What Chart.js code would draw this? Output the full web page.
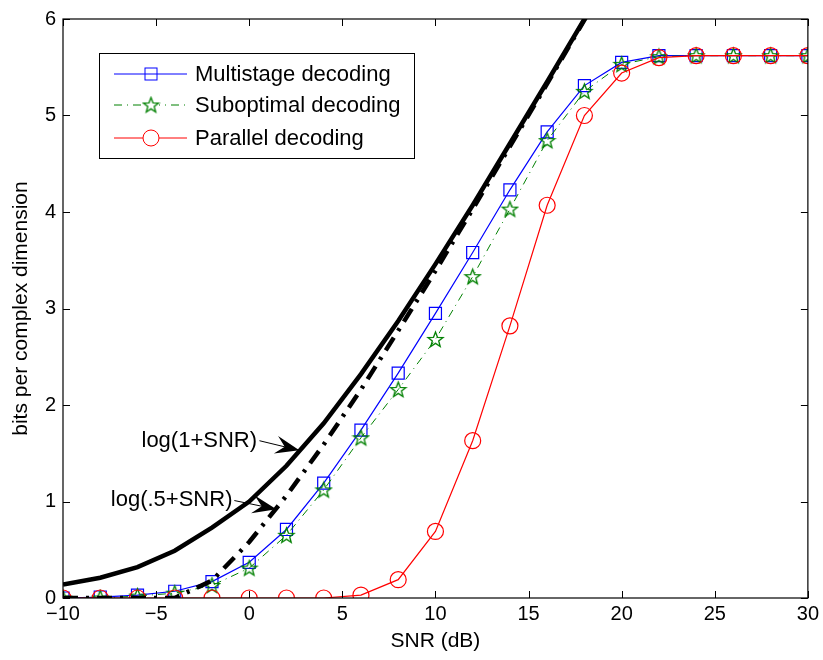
<!DOCTYPE html>
<html>
<head>
<meta charset="utf-8">
<script src="https://cdn.jsdelivr.net/npm/chart.js@4/dist/chart.umd.min.js"></script>
<style>
  html, body { margin: 0; padding: 0; background: #fff; }
  #wrap { width: 823px; height: 660px; }
</style>
</head>
<body>
<div id="wrap"><canvas id="chartCanvas" width="823" height="660"></canvas></div>
<script>
// SNR grid for the decoding curves (dB)
const snrDb = [-10, -8, -6, -4, -2, 0, 2, 4, 6, 8, 10, 12, 14, 16, 18, 20, 22, 24, 26, 28, 30];
const multistage = [0.00, 0.01, 0.03, 0.07, 0.17, 0.37, 0.71, 1.19, 1.74, 2.33, 2.95, 3.58, 4.23, 4.83, 5.31, 5.55, 5.62, 5.62, 5.62, 5.62, 5.62];
const suboptimal = [0.00, 0.00, 0.02, 0.05, 0.13, 0.31, 0.65, 1.12, 1.66, 2.16, 2.68, 3.33, 4.03, 4.74, 5.25, 5.53, 5.61, 5.62, 5.62, 5.62, 5.62];
const parallel = [0.00, 0.00, 0.00, 0.00, 0.00, 0.00, 0.00, 0.00, 0.03, 0.19, 0.69, 1.63, 2.82, 4.07, 5.00, 5.44, 5.60, 5.62, 5.62, 5.62, 5.62];

// capacity curves (thick black)
const capSnr = [-10, -8, -6, -4, -2, 0, 2, 4, 6, 8, 10, 12, 14, 16, 18, 20];
const capLogOne = [0.14, 0.21, 0.32, 0.49, 0.73, 1.00, 1.37, 1.81, 2.32, 2.87, 3.46, 4.07, 4.71, 5.35, 6.00, 6.66];
const capLogHalf = [0.00, 0.00, 0.00, 0.00, 0.18, 0.58, 1.06, 1.59, 2.16, 2.77, 3.39, 4.03, 4.68, 5.33, 5.99, 6.65];

const legendLabels = ['Multistage decoding', 'Suboptimal decoding', 'Parallel decoding'];
const xTitle = 'SNR (dB)';
const yTitle = 'bits per complex dimension';

const FONT = 'Liberation Sans, Arial, Helvetica, sans-serif';

function pts(xs, ys) {
  return xs.map((x, i) => ({ x: x, y: ys[i] }));
}

// green five-pointed star marker (Chart.js 'star' is an asterisk)
function makeStar(size) {
  const c = document.createElement('canvas');
  c.width = size; c.height = size;
  const g = c.getContext('2d');
  const cx = size / 2, cy = size / 2 + 0.5, ro = size / 2 - 1.5, ri = ro * 0.42;
  g.beginPath();
  for (let k = 0; k < 10; k++) {
    const r = k % 2 === 0 ? ro : ri;
    const a = -Math.PI / 2 + k * Math.PI / 5;
    const px = cx + r * Math.cos(a), py = cy + r * Math.sin(a);
    if (k === 0) g.moveTo(px, py); else g.lineTo(px, py);
  }
  g.closePath();
  g.strokeStyle = '#008000';
  g.lineWidth = 1.3;
  g.stroke();
  return c;
}
const starImg = makeStar(19);

function arrow(ctx, x0, y0, x1, y1) {
  ctx.save();
  ctx.strokeStyle = '#000';
  ctx.fillStyle = '#000';
  ctx.lineWidth = 1;
  ctx.beginPath();
  ctx.moveTo(x0, y0);
  ctx.lineTo(x1, y1);
  ctx.stroke();
  const a = Math.atan2(y1 - y0, x1 - x0);
  const len = 24, half = 9, notch = 15;
  const bx = x1 - len * Math.cos(a), by = y1 - len * Math.sin(a);
  const nx = x1 - notch * Math.cos(a), ny = y1 - notch * Math.sin(a);
  ctx.beginPath();
  ctx.moveTo(x1, y1);
  ctx.lineTo(bx - half * Math.sin(a), by + half * Math.cos(a));
  ctx.lineTo(nx, ny);
  ctx.lineTo(bx + half * Math.sin(a), by - half * Math.cos(a));
  ctx.closePath();
  ctx.fill();
  ctx.restore();
}

const decorPlugin = {
  id: 'decor',
  afterDraw(chart) {
    const ctx = chart.ctx;
    const area = chart.chartArea;
    const xs = chart.scales.x, ys = chart.scales.y;

    // axes box
    ctx.save();
    ctx.strokeStyle = '#000';
    ctx.lineWidth = 1.2;
    ctx.strokeRect(area.left, area.top, area.right - area.left, area.bottom - area.top);

    // inward ticks on all sides
    const tl = 7;
    ctx.beginPath();
    xs.ticks.forEach(t => {
      const px = Math.round(xs.getPixelForValue(t.value)) + 0.5;
      ctx.moveTo(px, area.bottom); ctx.lineTo(px, area.bottom - tl);
      ctx.moveTo(px, area.top); ctx.lineTo(px, area.top + tl);
    });
    ys.ticks.forEach(t => {
      const py = Math.round(ys.getPixelForValue(t.value)) + 0.5;
      ctx.moveTo(area.left, py); ctx.lineTo(area.left + tl, py);
      ctx.moveTo(area.right, py); ctx.lineTo(area.right - tl, py);
    });
    ctx.lineWidth = 1;
    ctx.stroke();

    // axis titles
    ctx.fillStyle = '#000';
    ctx.font = '21px ' + FONT;
    ctx.textAlign = 'center';
    ctx.textBaseline = 'middle';
    ctx.fillText(xTitle, (area.left + area.right) / 2, 641);
    ctx.save();
    ctx.translate(21, (area.top + area.bottom) / 2);
    ctx.rotate(-Math.PI / 2);
    ctx.fillText(yTitle, 0, 0);
    ctx.restore();

    // annotations
    ctx.font = '22px ' + FONT;
    ctx.textAlign = 'right';
    ctx.fillText('log(1+SNR)', xs.getPixelForValue(0.42), ys.getPixelForValue(1.63));
    arrow(ctx, xs.getPixelForValue(0.55), ys.getPixelForValue(1.63),
      xs.getPixelForValue(2.69), ys.getPixelForValue(1.53));
    ctx.fillText('log(.5+SNR)', xs.getPixelForValue(-0.9), ys.getPixelForValue(1.02));
    arrow(ctx, xs.getPixelForValue(-0.8), ys.getPixelForValue(1.01),
      xs.getPixelForValue(1.46), ys.getPixelForValue(0.92));

    // legend box
    const lx = area.left + 36, ly = area.top + 34, lw = 315, lh = 105;
    ctx.fillStyle = '#fff';
    ctx.fillRect(lx, ly, lw, lh);
    ctx.strokeStyle = '#000';
    ctx.lineWidth = 1;
    ctx.strokeRect(lx + 0.5, ly + 0.5, lw, lh);
    const rows = [ly + 21, ly + 52, ly + 85];
    const x0 = lx + 15, x1 = lx + 88, xm = lx + 52;
    // multistage
    ctx.strokeStyle = '#0000ff';
    ctx.beginPath(); ctx.moveTo(x0, rows[0]); ctx.lineTo(x1, rows[0]); ctx.stroke();
    ctx.strokeRect(xm - 6, rows[0] - 6, 12, 12);
    // suboptimal
    ctx.strokeStyle = '#008000';
    ctx.setLineDash([8, 5, 1, 5]);
    ctx.beginPath(); ctx.moveTo(x0, rows[1]); ctx.lineTo(x1, rows[1]); ctx.stroke();
    ctx.setLineDash([]);
    ctx.fillStyle = '#fff';
    ctx.fillRect(xm - 8, rows[1] - 8, 16, 16);
    ctx.drawImage(starImg, xm - starImg.width / 2, rows[1] - starImg.height / 2);
    // parallel
    ctx.strokeStyle = '#ff0000';
    ctx.beginPath(); ctx.moveTo(x0, rows[2]); ctx.lineTo(x1, rows[2]); ctx.stroke();
    ctx.fillStyle = '#fff';
    ctx.beginPath(); ctx.arc(xm, rows[2], 8, 0, Math.PI * 2); ctx.fill(); ctx.stroke();

    ctx.fillStyle = '#000';
    ctx.font = '22px ' + FONT;
    ctx.textAlign = 'left';
    legendLabels.forEach((s, i) => ctx.fillText(s, lx + 96, rows[i] + 1));
    ctx.restore();
  }
};

const ctx = document.getElementById('chartCanvas').getContext('2d');
new Chart(ctx, {
  type: 'line',
  data: {
    datasets: [
      {
        label: 'log(1+SNR)',
        data: pts(capSnr, capLogOne),
        borderColor: '#000',
        borderWidth: 4.5,
        pointRadius: 0,
        order: 1
      },
      {
        label: 'log(.5+SNR)',
        data: pts(capSnr, capLogHalf),
        borderColor: '#000',
        borderWidth: 4.5,
        borderDash: [15, 8, 3, 8],
        pointRadius: 0,
        order: 2
      },
      {
        label: legendLabels[2],
        data: pts(snrDb, parallel),
        borderColor: '#ff0000',
        borderWidth: 1.2,
        pointStyle: 'circle',
        pointRadius: 8,
        pointBorderColor: '#ff0000',
        pointBackgroundColor: 'rgba(0,0,0,0)',
        pointBorderWidth: 1.2,
        order: 3
      },
      {
        label: legendLabels[1],
        data: pts(snrDb, suboptimal),
        borderColor: '#008000',
        borderWidth: 1,
        borderDash: [8, 5, 1, 5],
        pointStyle: starImg,
        order: 4
      },
      {
        label: legendLabels[0],
        data: pts(snrDb, multistage),
        borderColor: '#0000ff',
        borderWidth: 1.2,
        pointStyle: 'rect',
        pointRadius: 8.5,
        pointBorderColor: '#0000ff',
        pointBackgroundColor: 'rgba(0,0,0,0)',
        pointBorderWidth: 1.2,
        order: 5
      }
    ]
  },
  options: {
    responsive: false,
    animation: false,
    tension: 0,
    layout: { padding: { left: 0, right: 14, top: 16, bottom: 0 } },
    plugins: {
      legend: { display: false },
      tooltip: { enabled: false }
    },
    scales: {
      x: {
        type: 'linear',
        min: -10,
        max: 30,
        grid: { display: false, drawTicks: false },
        border: { display: false },
        afterFit: function(axis) { axis.height = 62; },
        ticks: {
          stepSize: 5,
          padding: 4,
          color: '#000',
          font: { family: FONT, size: 20 },
          maxRotation: 0,
          callback: function(v) { return String(v).replace('-', '\u2212'); }
        }
      },
      y: {
        min: 0,
        max: 6,
        grid: { display: false, drawTicks: false },
        border: { display: false },
        afterFit: function(axis) { axis.width = 63; },
        ticks: {
          stepSize: 1,
          padding: 7,
          color: '#000',
          font: { family: FONT, size: 20 }
        }
      }
    }
  },
  plugins: [decorPlugin]
});
</script>
</body>
</html>
